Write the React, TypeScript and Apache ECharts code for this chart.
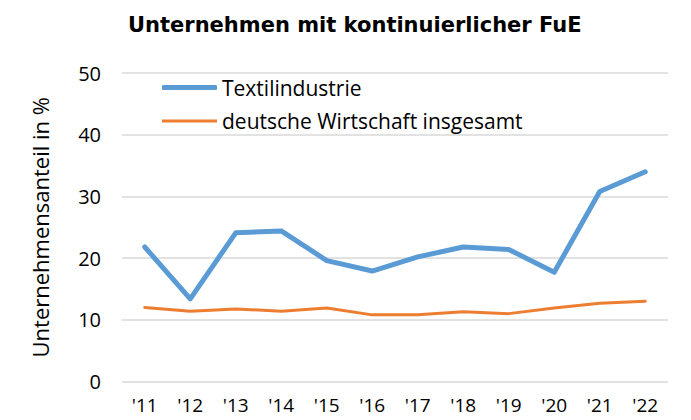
import React, { useEffect, useRef } from "react";
import * as echarts from "echarts";

const years = ["'11", "'12", "'13", "'14", "'15", "'16", "'17", "'18", "'19", "'20", "'21", "'22"];
const textil = [21.8, 13.4, 24.1, 24.4, 19.6, 17.9, 20.2, 21.8, 21.4, 17.7, 30.8, 34.0];
const gesamt = [12.0, 11.4, 11.75, 11.4, 11.9, 10.8, 10.8, 11.3, 11.0, 11.9, 12.7, 13.0];
const yTicks = [0, 10, 20, 30, 40, 50];
const seriesNames = ["Textilindustrie", "deutsche Wirtschaft insgesamt"];

const FONT = "Open Sans";
const BLUE = "#5b9bd5";
const ORANGE = "#ed7d31";

export default function App() {
  const ref = useRef<HTMLDivElement>(null);
  useEffect(() => {
    if (!ref.current) return;
    const chart = echarts.init(ref.current, null, { renderer: "svg" });
    const legendText = { fontFamily: FONT, fontSize: 21, color: "#000" };
    chart.setOption({
      animation: false,
      backgroundColor: "#ffffff",
      title: {
        text: "Unternehmen mit kontinuierlicher FuE",
        left: 123,
        top: 9,
        textStyle: { fontFamily: "DejaVu Sans", fontWeight: "bold", fontSize: 21, color: "#000" },
      },
      legend: [
        {
          orient: "vertical",
          left: 157,
          top: 72,
          itemWidth: 55,
          itemHeight: 5,
          icon: "roundRect",
          textStyle: legendText,
          data: [seriesNames[0]],
        },
        {
          orient: "vertical",
          left: 157,
          top: 105.5,
          itemWidth: 55,
          itemHeight: 3,
          icon: "rect",
          textStyle: legendText,
          data: [seriesNames[1]],
        },
      ],
      grid: { left: 122, right: 23, top: 73, bottom: 38.5, containLabel: false },
      xAxis: {
        type: "category",
        data: years,
        boundaryGap: true,
        axisLine: { show: false },
        axisTick: { show: false },
        axisLabel: { fontFamily: FONT, fontSize: 19, color: "#000", margin: 14 },
      },
      yAxis: {
        type: "value",
        min: yTicks[0],
        max: yTicks[yTicks.length - 1],
        interval: 10,
        name: "Unternehmensanteil in %",
        nameLocation: "middle",
        nameGap: 71,
        nameTextStyle: { fontFamily: FONT, fontSize: 22, color: "#000" },
        axisLine: { show: false },
        axisTick: { show: false },
        axisLabel: { fontFamily: FONT, fontSize: 20, color: "#000", margin: 21 },
        splitLine: { lineStyle: { color: "#d9d9d9", width: 1.5 } },
      },
      series: [
        {
          name: seriesNames[0],
          type: "line",
          data: textil,
          symbol: "none",
          lineStyle: { color: BLUE, width: 5, cap: "round", join: "round" },
          itemStyle: { color: BLUE },
        },
        {
          name: seriesNames[1],
          type: "line",
          data: gesamt,
          symbol: "none",
          lineStyle: { color: ORANGE, width: 3, cap: "round", join: "round" },
          itemStyle: { color: ORANGE },
        },
      ],
    });
    return () => chart.dispose();
  }, []);
  return <div ref={ref} style={{ width: 691, height: 420, position: "absolute", left: 0, top: 0 }} />;
}
